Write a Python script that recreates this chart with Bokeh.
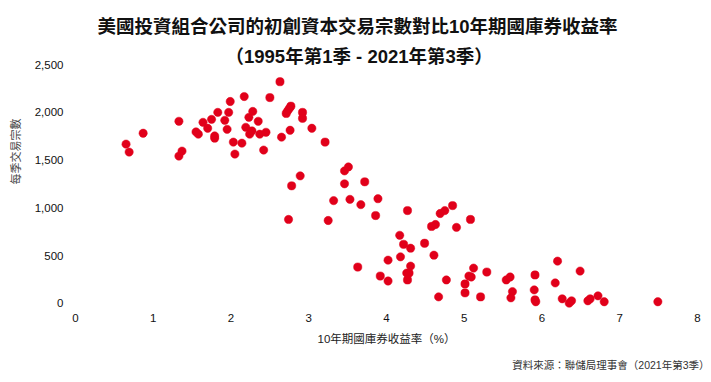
from bokeh.plotting import figure
from bokeh.models import Range1d, FixedTicker, NumeralTickFormatter, Title, ColumnDataSource
from bokeh.embed import file_html
from bokeh.resources import INLINE

# 10-year Treasury yield (%)
yields = [0.65, 0.69, 0.87, 1.33, 1.33, 1.37, 1.55, 1.58, 1.64, 1.70, 1.75, 1.79, 1.79, 1.83,
          1.92, 1.95, 1.97, 1.99, 2.03, 2.05, 2.14, 2.17, 2.19, 2.23, 2.24, 2.27, 2.28, 2.35,
          2.37, 2.42, 2.45, 2.50, 2.63, 2.65, 2.71, 2.73, 2.75, 2.77, 2.76, 2.78, 2.74, 2.89,
          2.92, 2.92, 3.04, 3.21, 3.46, 3.51, 3.46, 3.72, 3.32, 3.53, 3.67, 3.89, 3.86, 3.25,
          4.27, 4.17, 4.22, 4.31, 4.49, 4.18, 4.61, 3.63, 4.02, 3.92, 4.02, 4.26, 4.29, 4.31,
          4.27, 4.58, 4.63, 4.69, 4.75, 4.85, 4.90, 5.08, 4.67, 4.77, 5.01, 5.01, 5.06, 5.09,
          5.12, 5.29, 5.21, 5.54, 5.59, 5.62, 5.60, 5.91, 5.90, 5.91, 5.92, 6.17, 6.20, 6.26,
          6.35, 6.38, 6.49, 6.59, 6.62, 6.72, 6.80, 7.49]
# Number of deals per quarter
deals = [1667, 1584, 1781, 1906, 1542, 1594, 1795, 1771, 1895, 1833, 1926, 1753, 1729, 1999,
         1916, 1822, 1999, 2113, 1688, 1563, 1677, 2165, 1843, 1947, 1771, 1805, 2009, 1906,
         1771, 1605, 1791, 2154, 2320, 1740, 1988, 2016, 2040, 2064, 1812, 1231, 879, 1335,
         1999, 1937, 1833, 1688, 1387, 1428, 1252, 1273, 1076, 1089, 1034, 1096, 920, 868,
         972, 713, 619, 578, 630, 488, 505, 381, 453, 287, 235, 318, 318, 391,
         246, 806, 826, 941, 972, 1024, 796, 879, 69, 246, 204, 111, 287, 277,
         370, 329, 69, 246, 277, 124, 59, 298, 142, 38, 18, 215, 443, 49,
         3, 28, 339, 28, 49, 80, 18, 18]

x_ticks = [0, 1, 2, 3, 4, 5, 6, 7, 8]
y_ticks = [0, 500, 1000, 1500, 2000, 2500]

title1 = "美國投資組合公司的初創資本交易宗數對比10年期國庫券收益率"
title2 = "（1995年第1季 - 2021年第3季）"
x_label = "10年期國庫券收益率（%）"
y_label = "每季交易宗數"
source_text = "資料來源：聯儲局理事會（2021年第3季）"

FONT = "'Liberation Sans', 'Noto Sans CJK TC'"

W, H = 711, 382
FL, FR, FT, FB = 75, 697, 62, 311

p = figure(width=W, height=H, output_backend="svg", toolbar_location=None,
           title=None,
           x_range=Range1d(0, 8), y_range=Range1d(-84, 2521),
           min_border_left=FL, min_border_right=W - FR, min_border_top=FT,
           min_border_bottom=H - FB)
p.outline_line_color = None
p.background_fill_color = "white"
p.border_fill_color = "white"
p.xgrid.visible = False
p.ygrid.visible = False

src = ColumnDataSource(dict(x=yields, y=deals))
p.scatter("x", "y", source=src, size=8.3, fill_color="#E1001A", line_color="#E1001A",
          line_width=0.5)

for ax in (p.xaxis[0], p.yaxis[0]):
    ax.axis_line_color = None
    ax.major_tick_line_color = None
    ax.minor_tick_line_color = None
    ax.major_tick_out = 0
    ax.major_tick_in = 0
    ax.minor_tick_out = 0
    ax.minor_tick_in = 0
    ax.major_label_text_font = FONT
    ax.major_label_text_font_size = "11.5px"
    ax.major_label_text_color = "#111111"

p.xaxis.ticker = FixedTicker(ticks=x_ticks)
p.yaxis.ticker = FixedTicker(ticks=y_ticks)
p.yaxis.formatter = NumeralTickFormatter(format="0,0")
p.yaxis.major_label_standoff = 12
p.xaxis.major_label_standoff = 2

p.xaxis.axis_label = x_label
p.xaxis.axis_label_text_font = FONT
p.xaxis.axis_label_text_font_size = "11.5px"
p.xaxis.axis_label_text_font_style = "normal"
p.xaxis.axis_label_text_color = "#222222"
p.xaxis.axis_label_standoff = 8

# titles (added inner first)
p.add_layout(Title(text=title2, align="left", offset=150, standoff=-8,
                   text_font=FONT, text_font_size="18.5px", text_font_style="bold",
                   text_color="#111111"), "above")
p.add_layout(Title(text=title1, align="left", offset=22, standoff=22,
                   text_font=FONT, text_font_size="18.5px", text_font_style="bold",
                   text_color="#111111"), "above")

# y label
p.add_layout(Title(text=y_label, align="right", offset=56, standoff=17,
                   vertical_align="middle",
                   text_font=FONT, text_font_size="11px", text_font_style="normal",
                   text_color="#444444"), "left")

# source note
p.add_layout(Title(text=source_text, align="right", offset=-12, standoff=20,
                   vertical_align="middle",
                   text_font=FONT, text_font_size="10.5px", text_font_style="normal",
                   text_color="#333333"), "below")

open("out.html", "w").write(file_html(p, INLINE))
